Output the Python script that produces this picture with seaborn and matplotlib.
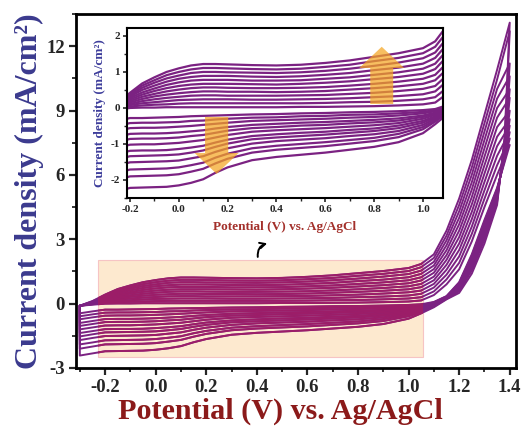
import numpy as np
import pandas as pd
import matplotlib
matplotlib.use("Agg")
import matplotlib.pyplot as plt
import seaborn as sns
from matplotlib.patches import Rectangle, FancyArrow
from matplotlib.ticker import MultipleLocator

# ---------------- data ----------------
# potential grid of the forward (anodic) sweep and of the reverse (cathodic) sweep, V vs Ag/AgCl
E_anodic = [-0.30, -0.25, -0.20, -0.15, -0.10, -0.05, 0.00, 0.05, 0.10, 0.15, 0.20, 0.30, 0.40, 0.50,
            0.60, 0.70, 0.80, 0.90, 1.00, 1.05, 1.10, 1.15, 1.20, 1.25, 1.30, 1.35, 1.40]
E_cathodic = [1.38, 1.35, 1.30, 1.25, 1.20, 1.15, 1.10, 1.05, 1.00, 0.90, 0.80, 0.70, 0.60, 0.50,
              0.40, 0.30, 0.20, 0.15, 0.10, 0.05, 0.00, -0.05, -0.10, -0.15, -0.20, -0.25, -0.30]

# current density (mA/cm2), one row per CV cycle (smallest -> largest)
anodic = [
    [-0.10, -0.05, 0.00, 0.01, 0.01, 0.02, 0.02, 0.02, 0.02, 0.02, 0.02, 0.02, 0.02, 0.03, 0.03, 0.04, 0.05, 0.07, 0.10, 0.15, 0.40, 0.90, 1.60, 2.90, 4.50, 6.00, 7.40],
    [-0.10, -0.03, 0.04, 0.07, 0.09, 0.10, 0.12, 0.13, 0.13, 0.13, 0.13, 0.13, 0.13, 0.13, 0.14, 0.16, 0.17, 0.20, 0.24, 0.30, 0.57, 1.13, 1.90, 3.25, 4.89, 6.45, 7.70],
    [-0.10, -0.02, 0.08, 0.13, 0.16, 0.19, 0.22, 0.23, 0.24, 0.24, 0.24, 0.23, 0.23, 0.24, 0.25, 0.27, 0.30, 0.33, 0.38, 0.46, 0.75, 1.35, 2.20, 3.59, 5.28, 6.89, 8.00],
    [-0.10, 0.00, 0.11, 0.19, 0.24, 0.28, 0.31, 0.34, 0.35, 0.35, 0.34, 0.34, 0.34, 0.35, 0.36, 0.39, 0.42, 0.47, 0.53, 0.61, 0.92, 1.58, 2.50, 3.94, 5.67, 7.34, 8.30],
    [-0.10, 0.01, 0.15, 0.25, 0.32, 0.37, 0.41, 0.44, 0.46, 0.46, 0.45, 0.45, 0.44, 0.45, 0.47, 0.51, 0.55, 0.60, 0.67, 0.77, 1.09, 1.81, 2.80, 4.28, 6.06, 7.78, 8.60],
    [-0.10, 0.03, 0.19, 0.31, 0.39, 0.46, 0.51, 0.55, 0.57, 0.57, 0.56, 0.55, 0.55, 0.56, 0.58, 0.62, 0.67, 0.73, 0.81, 0.92, 1.26, 2.04, 3.10, 4.63, 6.45, 8.23, 9.00],
    [-0.10, 0.04, 0.23, 0.37, 0.47, 0.55, 0.61, 0.65, 0.67, 0.67, 0.67, 0.66, 0.65, 0.67, 0.70, 0.74, 0.80, 0.86, 0.95, 1.08, 1.44, 2.26, 3.40, 4.97, 6.85, 8.67, 9.60],
    [-0.10, 0.06, 0.27, 0.43, 0.54, 0.64, 0.71, 0.76, 0.78, 0.78, 0.78, 0.76, 0.76, 0.77, 0.81, 0.85, 0.92, 0.99, 1.09, 1.23, 1.61, 2.49, 3.70, 5.32, 7.24, 9.12, 10.00],
    [-0.10, 0.07, 0.31, 0.50, 0.62, 0.73, 0.81, 0.86, 0.89, 0.89, 0.89, 0.87, 0.86, 0.88, 0.92, 0.97, 1.05, 1.12, 1.23, 1.39, 1.78, 2.72, 4.00, 5.66, 7.63, 9.56, 10.60],
    [-0.10, 0.09, 0.34, 0.56, 0.70, 0.82, 0.90, 0.97, 1.00, 1.00, 0.99, 0.98, 0.97, 0.99, 1.03, 1.09, 1.17, 1.26, 1.38, 1.54, 1.95, 2.95, 4.30, 6.01, 8.02, 10.01, 11.20],
    [-0.10, 0.11, 0.38, 0.62, 0.77, 0.91, 1.00, 1.07, 1.11, 1.11, 1.10, 1.08, 1.07, 1.09, 1.14, 1.20, 1.30, 1.39, 1.52, 1.70, 2.13, 3.17, 4.60, 6.35, 8.41, 10.45, 12.70],
    [-0.10, 0.12, 0.42, 0.68, 0.85, 1.00, 1.10, 1.18, 1.22, 1.22, 1.21, 1.19, 1.18, 1.20, 1.25, 1.32, 1.42, 1.52, 1.66, 1.85, 2.30, 3.40, 4.90, 6.70, 8.80, 10.90, 13.10],
]
cathodic = [
    [6.60, 5.40, 3.90, 2.30, 1.00, 0.35, 0.08, -0.03, -0.06, -0.09, -0.11, -0.12, -0.14, -0.15, -0.17, -0.18, -0.20, -0.21, -0.22, -0.23, -0.25, -0.26, -0.27, -0.28, -0.28, -0.36, -0.45],
    [6.69, 5.34, 3.82, 2.24, 0.96, 0.34, 0.06, -0.06, -0.11, -0.15, -0.18, -0.19, -0.22, -0.23, -0.26, -0.27, -0.30, -0.32, -0.35, -0.36, -0.39, -0.40, -0.41, -0.41, -0.42, -0.50, -0.59],
    [6.77, 5.28, 3.74, 2.17, 0.93, 0.33, 0.04, -0.09, -0.15, -0.21, -0.25, -0.27, -0.30, -0.32, -0.34, -0.36, -0.41, -0.44, -0.47, -0.50, -0.52, -0.54, -0.55, -0.55, -0.56, -0.64, -0.73],
    [6.87, 5.22, 3.65, 2.10, 0.89, 0.32, 0.02, -0.13, -0.21, -0.29, -0.33, -0.36, -0.39, -0.41, -0.44, -0.47, -0.53, -0.57, -0.62, -0.65, -0.68, -0.70, -0.71, -0.71, -0.72, -0.81, -0.90],
    [6.96, 5.16, 3.57, 2.03, 0.85, 0.31, 0.01, -0.16, -0.25, -0.35, -0.40, -0.43, -0.47, -0.49, -0.53, -0.56, -0.63, -0.69, -0.75, -0.78, -0.82, -0.84, -0.85, -0.85, -0.86, -0.95, -1.04],
    [7.06, 5.10, 3.48, 1.96, 0.81, 0.29, -0.02, -0.19, -0.30, -0.42, -0.48, -0.52, -0.56, -0.59, -0.62, -0.66, -0.75, -0.82, -0.89, -0.93, -0.97, -0.99, -1.01, -1.01, -1.02, -1.11, -1.20],
    [7.16, 5.02, 3.38, 1.88, 0.77, 0.28, -0.04, -0.23, -0.36, -0.49, -0.57, -0.61, -0.66, -0.69, -0.73, -0.78, -0.88, -0.96, -1.05, -1.10, -1.14, -1.17, -1.18, -1.18, -1.19, -1.28, -1.37],
    [7.26, 4.96, 3.30, 1.81, 0.73, 0.27, -0.06, -0.26, -0.41, -0.56, -0.64, -0.69, -0.74, -0.78, -0.82, -0.87, -0.99, -1.08, -1.18, -1.24, -1.29, -1.31, -1.32, -1.33, -1.34, -1.43, -1.53],
    [7.36, 4.89, 3.20, 1.73, 0.68, 0.25, -0.08, -0.30, -0.47, -0.64, -0.73, -0.78, -0.84, -0.88, -0.92, -0.99, -1.12, -1.22, -1.34, -1.40, -1.46, -1.48, -1.49, -1.50, -1.51, -1.60, -1.70],
    [7.48, 4.81, 3.09, 1.64, 0.63, 0.24, -0.10, -0.34, -0.53, -0.72, -0.83, -0.89, -0.95, -1.00, -1.05, -1.12, -1.27, -1.38, -1.52, -1.59, -1.65, -1.68, -1.69, -1.70, -1.71, -1.81, -1.90],
    [7.60, 4.73, 2.98, 1.55, 0.58, 0.22, -0.13, -0.38, -0.59, -0.81, -0.92, -0.99, -1.06, -1.11, -1.16, -1.24, -1.41, -1.54, -1.69, -1.77, -1.84, -1.87, -1.88, -1.89, -1.90, -2.00, -2.10],
    [7.80, 4.60, 2.80, 1.40, 0.50, 0.20, -0.17, -0.45, -0.70, -0.95, -1.08, -1.16, -1.24, -1.30, -1.36, -1.45, -1.65, -1.80, -1.98, -2.08, -2.15, -2.19, -2.20, -2.21, -2.22, -2.32, -2.42],
]

main_xticks = [-0.2, 0.0, 0.2, 0.4, 0.6, 0.8, 1.0, 1.2, 1.4]
main_yticks = [-3, 0, 3, 6, 9, 12]
inset_xticks = [-0.2, 0.0, 0.2, 0.4, 0.6, 0.8, 1.0]
inset_yticks = [-2, -1, 0, 1, 2]

xlabel = "Potential (V) vs. Ag/AgCl"
ylabel = "Current density (mA/cm²)"

# ---------------- build long table ----------------
rows = []
for k in range(len(anodic)):
    Es = E_anodic + E_cathodic + [E_anodic[0]]
    js = anodic[k] + cathodic[k] + [anodic[k][0]]
    for n, (e, j) in enumerate(zip(Es, js)):
        rows.append((k, n, e, j))
df = pd.DataFrame(rows, columns=["loop", "step", "E", "j"])

# ---------------- style ----------------
sns.set_style("ticks")
plt.rcParams["font.family"] = ["Liberation Serif", "DejaVu Serif"]
plt.rcParams["font.weight"] = "bold"
plt.rcParams["axes.unicode_minus"] = False

PURPLE = "#7b2282"
CRIMSON = "#9c1d68"

fig = plt.figure(figsize=(5.22, 4.29), dpi=100)
ax = fig.add_axes([0.1456, 0.1422, 0.843, 0.825])

sns.lineplot(data=df, x="E", y="j", units="loop", estimator=None, sort=False,
             color=PURPLE, lw=1.4, ax=ax, legend=False)
n_before = len(ax.lines)
rect = Rectangle((-0.228, -2.5), 1.285, 4.55, facecolor="#fde9cf",
                 edgecolor="#f6c4c4", lw=0.8, zorder=0.5)
ax.add_patch(rect)
sns.lineplot(data=df, x="E", y="j", units="loop", estimator=None, sort=False,
             color=CRIMSON, lw=1.4, ax=ax, legend=False)
for ln in ax.lines[n_before:]:
    ln.set_clip_path(rect)

ax.set_xlim(-0.315, 1.425)
ax.set_ylim(-3, 13.5)
ax.set_xticks(main_xticks)
ax.set_xticklabels([f"{v:.1f}" for v in main_xticks])
ax.set_yticks(main_yticks)
ax.set_yticklabels([str(v) for v in main_yticks])
ax.xaxis.set_minor_locator(MultipleLocator(0.1))
ax.yaxis.set_minor_locator(MultipleLocator(1.5))
ax.tick_params(which="major", direction="out", length=5, width=1.6,
               labelsize=13.5, pad=3)
ax.tick_params(which="minor", direction="out", length=3, width=1.3)
for lab in ax.get_xticklabels() + ax.get_yticklabels():
    lab.set_fontweight("bold")
for s in ax.spines.values():
    s.set_linewidth(2.0)
    s.set_color("black")
    s.set_visible(True)

ax.set_xlabel(xlabel, fontsize=21.7, fontweight="bold", color="#8b1a1a")
ax.set_ylabel(ylabel, fontsize=23, fontweight="bold", color="#3b3a8e")
ax.xaxis.set_label_coords(0.464, -0.085)
ax.yaxis.set_label_coords(-0.073, 0.5)

ax.annotate("", xy=(0.452, 2.84), xytext=(0.405, 2.05),
            arrowprops=dict(arrowstyle="->", color="black", lw=1.4,
                            connectionstyle="arc3,rad=-0.5"))

# ---------------- inset ----------------
axin = fig.add_axes([0.2433, 0.5385, 0.6054, 0.3962])
axin.set_facecolor("white")
sns.lineplot(data=df, x="E", y="j", units="loop", estimator=None, sort=False,
             color=PURPLE, lw=1.6, ax=axin, legend=False)
axin.set_xlim(-0.212, 1.082)
axin.set_ylim(-2.5, 2.22)
axin.set_xticks(inset_xticks)
axin.set_xticklabels([f"{v:.1f}" for v in inset_xticks])
axin.set_yticks(inset_yticks)
axin.set_yticklabels([str(v) for v in inset_yticks])
axin.xaxis.set_minor_locator(MultipleLocator(0.1))
axin.yaxis.set_minor_locator(MultipleLocator(0.5))
axin.tick_params(which="major", direction="out", length=3, width=1.2,
                 labelsize=8, pad=2)
axin.tick_params(which="minor", direction="out", length=2, width=1.0)
for lab in axin.get_xticklabels() + axin.get_yticklabels():
    lab.set_fontweight("bold")
for s in axin.spines.values():
    s.set_linewidth(1.5)
    s.set_color("black")
    s.set_visible(True)
axin.set_xlabel(xlabel, fontsize=9.5, fontweight="bold", color="#a3302b")
axin.set_ylabel(ylabel, fontsize=9.5, fontweight="bold", color="#3d3d9b")
axin.xaxis.set_label_coords(0.5, -0.135)
axin.yaxis.set_label_coords(-0.068, 0.5)

axin.add_patch(FancyArrow(0.831, 0.11, 0, 1.59, width=0.094, head_width=0.184,
                          head_length=0.59, length_includes_head=True,
                          color="#f5a623", alpha=0.72, lw=0, zorder=5))
axin.add_patch(FancyArrow(0.155, -0.25, 0, -1.58, width=0.095, head_width=0.181,
                          head_length=0.58, length_includes_head=True,
                          color="#f5a623", alpha=0.72, lw=0, zorder=5))

fig.savefig("out.png", dpi=100)
